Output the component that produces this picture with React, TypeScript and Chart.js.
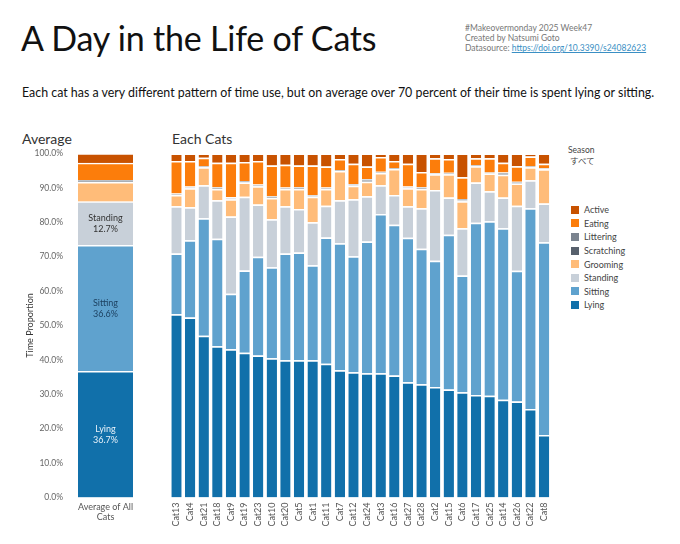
import React, { useEffect, useRef } from "react";
import { Chart, registerables } from "chart.js";

Chart.register(...registerables);

const FONT = "Lato, 'Noto Sans', sans-serif";

const cats = ["Cat13", "Cat4", "Cat21", "Cat18", "Cat9", "Cat19", "Cat23", "Cat10", "Cat20", "Cat5", "Cat1", "Cat11", "Cat7", "Cat12", "Cat24", "Cat3", "Cat16", "Cat27", "Cat28", "Cat2", "Cat15", "Cat6", "Cat17", "Cat25", "Cat14", "Cat26", "Cat22", "Cat8"];

const lying = [53.3, 52.3, 47.0, 44.0, 43.1, 42.1, 41.3, 40.5, 39.9, 39.9, 39.9, 38.9, 37.0, 36.4, 36.1, 36.1, 35.5, 33.5, 32.9, 32.1, 31.4, 30.6, 29.8, 29.6, 28.4, 27.9, 25.7, 18.2];
const sitting = [17.6, 22.5, 34.2, 31.2, 16.1, 23.9, 28.7, 26.4, 31.0, 31.3, 27.6, 36.7, 36.9, 33.7, 38.3, 46.3, 43.8, 42.0, 39.4, 36.7, 45.0, 33.9, 50.1, 50.7, 49.9, 38.0, 58.4, 56.0];
const standing = [13.8, 9.6, 9.6, 11.2, 22.5, 21.4, 15.2, 14.0, 13.8, 12.7, 12.5, 9.2, 12.5, 16.6, 13.2, 8.4, 8.6, 9.2, 11.8, 20.6, 10.8, 13.8, 11.7, 8.7, 8.9, 18.9, 8.1, 11.3];
const grooming = [3.2, 5.5, 5.2, 3.3, 5.0, 4.2, 5.3, 6.2, 5.0, 5.8, 7.4, 4.9, 8.5, 3.9, 4.2, 3.5, 7.6, 5.2, 5.6, 4.6, 6.8, 7.8, 4.7, 5.2, 6.6, 6.5, 3.8, 9.9];
const scratching = [0.2, 0.2, 0.1, 0.2, 0.2, 0.1, 0.2, 0.2, 0.1, 0.2, 0.2, 0.1, 0.1, 0.2, 0.3, 0.1, 0.1, 0.2, 0.2, 0.1, 0.1, 0.3, 0.1, 0.1, 0.3, 0.2, 0.1, 0.1];
const littering = [0.3, 0.3, 0.2, 0.3, 0.4, 0.3, 0.3, 0.3, 0.3, 0.3, 0.3, 0.3, 0.2, 0.3, 0.5, 0.3, 0.2, 0.3, 0.3, 0.2, 0.3, 0.4, 0.2, 0.2, 0.4, 0.3, 0.2, 0.2];
const eating = [9.4, 7.4, 2.5, 7.1, 10.0, 5.5, 6.8, 8.9, 6.6, 6.3, 8.6, 6.1, 3.2, 5.9, 3.6, 4.3, 2.0, 6.6, 4.4, 4.3, 4.0, 6.3, 2.0, 4.1, 2.8, 4.5, 2.8, 1.3];
const active = [2.2, 2.2, 1.2, 2.7, 2.7, 2.5, 2.2, 3.5, 3.3, 3.5, 3.5, 3.8, 1.6, 3.0, 3.8, 1.0, 2.2, 3.0, 5.4, 1.4, 1.6, 6.9, 1.4, 1.4, 2.7, 3.7, 0.9, 3.0];

const avgCategory = [["Average of All", "Cats"]];
const avgValues = [36.7, 36.6, 12.7, 5.6, 0.3, 0.3, 5.0, 2.8];

const seriesNames = ["Lying", "Sitting", "Standing", "Grooming", "Scratching", "Littering", "Eating", "Active"];
const seriesColors = ["#1170aa", "#5fa2ce", "#c8d0d9", "#ffbc79", "#57606c", "#7b848f", "#fc7d0b", "#c85200"];
const avgLabelColors = ["#e8f2fa", "#1b3f5e", "#333333"];
const legendOrder = ["Active", "Eating", "Littering", "Scratching", "Grooming", "Standing", "Sitting", "Lying"];

const yTicks = [0, 10, 20, 30, 40, 50, 60, 70, 80, 90, 100];

const catSeries = [lying, sitting, standing, grooming, scratching, littering, eating, active];

const barBorder = { top: 1.5, bottom: 0, left: 0, right: 0 };

const avgLabelPlugin = {
  id: "avgLabels",
  afterDatasetsDraw(chart: any) {
    const ctx = chart.ctx;
    ctx.save();
    ctx.font = `9px ${FONT}`;
    ctx.textAlign = "center";
    ctx.textBaseline = "middle";
    for (let i = 0; i < 3; i++) {
      const el = chart.getDatasetMeta(i).data[0];
      const cy = (el.y + el.base) / 2;
      ctx.fillStyle = avgLabelColors[i];
      ctx.fillText(seriesNames[i], el.x, cy - 5.5);
      ctx.fillText(avgValues[i].toFixed(1) + "%", el.x, cy + 5.5);
    }
    ctx.restore();
  },
};

function AverageChart() {
  const ref = useRef<HTMLCanvasElement>(null);
  useEffect(() => {
    const chart = new Chart(ref.current!, {
      type: "bar",
      data: {
        labels: avgCategory as any,
        datasets: seriesNames.map((name, i) => ({
          label: name,
          data: [avgValues[i]],
          backgroundColor: seriesColors[i],
          borderColor: "#ffffff",
          borderWidth: barBorder,
          borderSkipped: false,
          barPercentage: 1,
          categoryPercentage: 1,
        })),
      },
      options: {
        animation: false,
        responsive: false,
        maintainAspectRatio: false,
        layout: { padding: { top: 8.5, right: 17, left: 0, bottom: 0 } },
        plugins: { legend: { display: false }, tooltip: { enabled: false } },
        scales: {
          x: {
            stacked: true,
            grid: { display: false, drawTicks: false },
            border: { display: false },
            ticks: { color: "#555", font: { family: FONT, size: 9, lineHeight: 1.1 }, padding: 5 },
            afterFit: (s: any) => { s.height = 37.5; },
          },
          y: {
            stacked: true,
            min: 0,
            max: 100,
            grid: { display: false, drawTicks: true, tickLength: 15 },
            border: { display: false },
            afterBuildTicks: (s: any) => { s.ticks = yTicks.map((v) => ({ value: v })); },
            ticks: {
              color: "#666",
              font: { family: FONT, size: 8.5 },
              padding: 0,
              callback: (v: any) => Number(v).toFixed(1) + "%",
            },
            title: { display: true, text: "Time Proportion", color: "#333", font: { family: FONT, size: 9 }, padding: { top: 5, bottom: 0 } },
            afterFit: (s: any) => { s.width = 58; },
          },
        },
      },
      plugins: [avgLabelPlugin],
    });
    return () => chart.destroy();
  }, []);
  return <canvas ref={ref} width={130} height={390} style={{ position: "absolute", left: 20, top: 145, width: 130, height: 390 }} />;
}

function CatsChart() {
  const ref = useRef<HTMLCanvasElement>(null);
  useEffect(() => {
    const chart = new Chart(ref.current!, {
      type: "bar",
      data: {
        labels: cats,
        datasets: seriesNames.map((name, i) => ({
          label: name,
          data: catSeries[i],
          backgroundColor: seriesColors[i],
          borderColor: "#ffffff",
          borderWidth: barBorder,
          borderSkipped: false,
          barPercentage: 0.76,
          categoryPercentage: 1,
        })),
      },
      options: {
        animation: false,
        responsive: false,
        maintainAspectRatio: false,
        layout: { padding: { top: 8.5, right: 7.1, left: 9.7, bottom: 0 } },
        plugins: { legend: { display: false }, tooltip: { enabled: false } },
        scales: {
          x: {
            stacked: true,
            grid: { display: false, drawTicks: false },
            border: { display: false },
            ticks: { color: "#555", font: { family: FONT, size: 9 }, padding: 5, minRotation: 90, maxRotation: 90, autoSkip: false },
            afterFit: (s: any) => { s.height = 46.5; },
          },
          y: { stacked: true, min: 0, max: 100, display: false },
        },
      },
    });
    return () => chart.destroy();
  }, []);
  return <canvas ref={ref} width={400} height={399} style={{ position: "absolute", left: 160, top: 145, width: 400, height: 399 }} />;
}

export default function App() {
  const txt = (style: any, children: any) => (
    <div style={{ position: "absolute", whiteSpace: "nowrap", fontFamily: FONT, lineHeight: 1, ...style }}>{children}</div>
  );
  return (
    <div style={{ position: "fixed", left: 0, top: 0, width: 680, height: 544, background: "#fff", overflow: "hidden" }}>
      {txt({ left: 21, top: 21, fontSize: 34, color: "#111", letterSpacing: "-0.2px" }, "A Day in the Life of Cats")}
      <div style={{ position: "absolute", left: 465, top: 23, fontFamily: FONT, fontSize: 8.5, lineHeight: "10px", color: "#777", whiteSpace: "nowrap" }}>
        <div>#Makeovermonday 2025 Week47</div>
        <div>Created by Natsumi Goto</div>
        <div>
          Datasource: <span style={{ color: "#3a8fc4", textDecoration: "underline" }}>https://doi.org/10.3390/s24082623</span>
        </div>
      </div>
      {txt({ left: 22, top: 87, fontSize: 12.4, color: "#111" }, "Each cat has a very different pattern of time use, but on average over 70 percent of their time is spent lying or sitting.")}
      {txt({ left: 22, top: 132, fontSize: 14, color: "#333" }, "Average")}
      {txt({ left: 172, top: 132, fontSize: 14, color: "#333" }, "Each Cats")}
      <AverageChart />
      <CatsChart />
      {txt({ left: 568, top: 146, fontSize: 8.5, color: "#444" }, "Season")}
      {txt({ left: 570, top: 156, fontSize: 8.5, color: "#444", fontFamily: "'Noto Sans CJK JP', sans-serif" }, "すべて")}
      <div style={{ position: "absolute", left: 571, top: 203 }}>
        {legendOrder.map((name) => (
          <div key={name} style={{ display: "flex", alignItems: "center", height: 13.6, fontFamily: FONT, fontSize: 9, color: "#444" }}>
            <span style={{ display: "inline-block", width: 8, height: 8, background: seriesColors[seriesNames.indexOf(name)], marginRight: 5 }} />
            {name}
          </div>
        ))}
      </div>
    </div>
  );
}
